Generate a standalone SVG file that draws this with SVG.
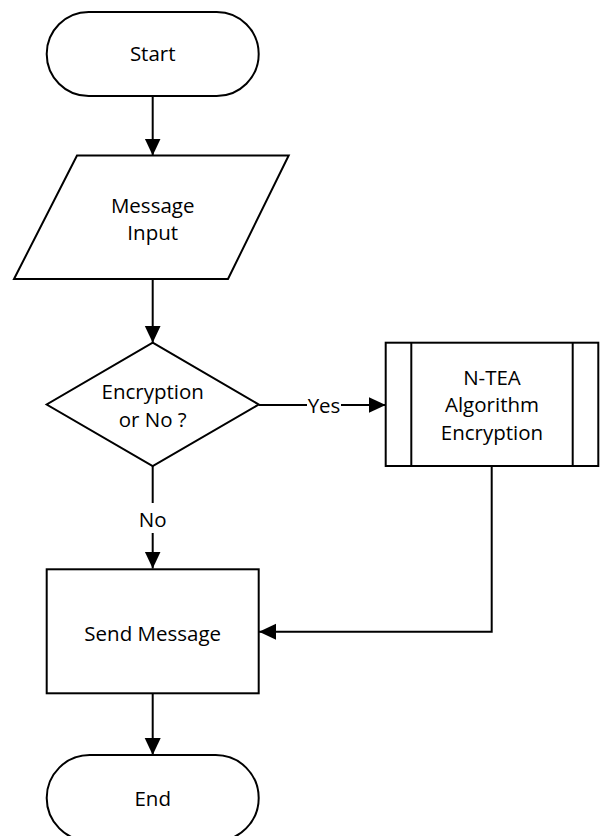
<svg xmlns="http://www.w3.org/2000/svg" width="600" height="836" viewBox="0 0 600 836">
<style>
.shape{fill:#fff;stroke:#000;stroke-width:2}
.line{fill:none;stroke:#000;stroke-width:2}
text{font-family:"Open Sans","Liberation Sans",sans-serif;font-size:20.5px;fill:#000;text-anchor:middle}
</style>
<defs>
<marker id="arrow" markerUnits="userSpaceOnUse" markerWidth="18" markerHeight="17" refX="17" refY="8" orient="auto" viewBox="0 0 18 17">
<path d="M0,0 L17,8 L0,16 Z" fill="#000"/>
</marker>
</defs>
<rect width="600" height="836" fill="#fff"/>
<g id="connectors">
<path class="line" d="M152.7,96 V155.5" marker-end="url(#arrow)"/>
<path class="line" d="M152.7,279 V342.7" marker-end="url(#arrow)"/>
<path class="line" d="M258.7,405 H385.7" marker-end="url(#arrow)"/>
<rect x="307" y="393" width="34" height="24" fill="#fff"/>
<text x="324" y="413">Yes</text>
<path class="line" d="M152.7,466 V568.5" marker-end="url(#arrow)"/>
<rect x="138" y="503" width="30" height="30" fill="#fff"/>
<text x="152.7" y="527">No</text>
<path class="line" d="M491.7,466 V631.7 H259" marker-end="url(#arrow)"/>
<path class="line" d="M152.7,693.3 V755" marker-end="url(#arrow)"/>
</g>
<g id="start">
<rect class="shape" x="46.7" y="12" width="212" height="84" rx="42" ry="42"/>
<text x="152.7" y="61">Start</text>
</g>
<g id="input">
<polygon class="shape" points="77,155.5 288.7,155.5 228,279 14,279"/>
<text x="152.7" y="213">Message</text>
<text x="152.7" y="240">Input</text>
</g>
<g id="decision">
<polygon class="shape" points="152.7,342.7 258.7,404.5 152.7,466 46.7,404.5"/>
<text x="152.7" y="399">Encryption</text>
<text x="152.7" y="426.5">or No ?</text>
</g>
<g id="ntea">
<rect class="shape" x="385.7" y="342.7" width="212.6" height="123.3"/>
<line class="line" x1="411.3" y1="342.7" x2="411.3" y2="466"/>
<line class="line" x1="572.7" y1="342.7" x2="572.7" y2="466"/>
<text x="492" y="385">N-TEA</text>
<text x="492" y="412.3">Algorithm</text>
<text x="492" y="440">Encryption</text>
</g>
<g id="send">
<rect class="shape" x="46.7" y="569.3" width="212" height="124"/>
<text x="152.7" y="640.5">Send Message</text>
</g>
<g id="end">
<rect class="shape" x="46.7" y="755" width="212" height="86" rx="43" ry="43"/>
<text x="152.7" y="806">End</text>
</g>
</svg>
